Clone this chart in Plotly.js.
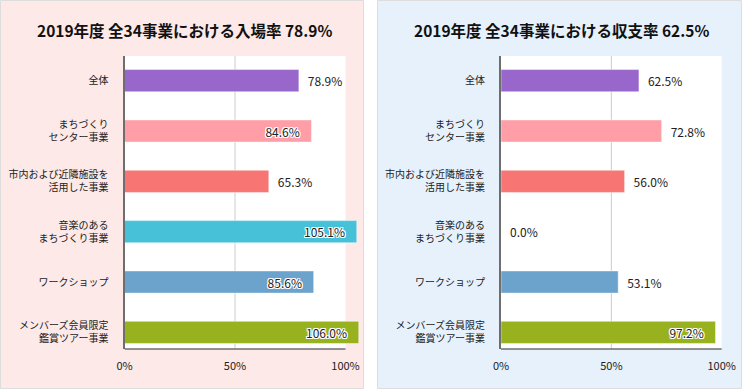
<!DOCTYPE html>
<html>
<head>
<meta charset="utf-8">
<script src="https://cdn.plot.ly/plotly-3.0.1.min.js"></script>
<style>html,body{margin:0;padding:0;background:#fff}#chart{width:742px;height:391px}</style>
</head>
<body>
<div id="chart"></div>
<script>
const categories = ['全体','まちづくり<br>センター事業','市内および近隣施設を<br>活用した事業','音楽のある<br>まちづくり事業','ワークショップ','メンバーズ会員限定<br>鑑賞ツアー事業'];
const attendanceRate = [78.9, 84.6, 65.3, 105.1, 85.6, 106.0];
const balanceRate = [62.5, 72.8, 56.0, 0.0, 53.1, 97.2];
const barColors = ['#9966cc', '#ff9ea7', '#f77573', '#47c1d8', '#6ba3cc', '#98b21f'];
const attendancePos = ['outside','inside','outside','inside','inside','inside'];
const balancePos = ['outside','outside','outside','outside','outside','inside'];
const xTickVals = [0, 50, 100];
const xTickText = ['0%', '50%', '100%'];
const titleLeft = '2019年度 全34事業における入場率 78.9%';
const titleRight = '2019年度 全34事業における収支率 62.5%';

const FONT = '"Noto Sans CJK JP", "Noto Sans", sans-serif';
const W = 742, H = 391;
const shadow = '1px 0 0 #fff, -1px 0 0 #fff, 0 1px 0 #fff, 0 -1px 0 #fff, 1px 1px 0 #fff, -1px -1px 0 #fff, 1px -1px 0 #fff, -1px 1px 0 #fff';

function barTrace(vals, pos, xa, ya) {
  return {
    type: 'bar', orientation: 'h',
    x: vals, y: categories,
    xaxis: xa, yaxis: ya,
    width: 0.44,
    marker: {color: barColors, line: {color: 'rgba(255,255,255,0.45)', width: 1}},
    text: vals.map(v => v.toFixed(1) + '%'),
    texttemplate: pos.map(p => p === 'outside' ? '\u2002%{text}' : '%{text}\u00a0\u2002'),
    textposition: pos,
    insidetextanchor: 'end',
    constraintext: 'none',
    cliponaxis: false,
    insidetextfont: {family: FONT, size: 12, color: '#222', shadow: shadow},
    outsidetextfont: {family: FONT, size: 12, color: '#222'},
    hoverinfo: 'skip'
  };
}

const data = [
  barTrace(attendanceRate, attendancePos, 'x', 'y'),
  barTrace(balanceRate, balancePos, 'x2', 'y2')
];

const yDom = [1 - 349 / H, 1 - 56 / H];
const xRange = [0, 107.5];
function xaxis(dom) {
  return {
    domain: dom, range: xRange, fixedrange: true,
    tickvals: xTickVals, ticktext: xTickText,
    showgrid: false, zeroline: false, showline: false,
    ticks: '', ticklabelstandoff: 9,
    tickfont: {family: FONT, size: 11, color: '#222'}
  };
}
function yaxis(anchor) {
  return {
    anchor: anchor, domain: yDom, type: 'category',
    range: [5.33, -0.49], fixedrange: true,
    showgrid: false, zeroline: false,
    showline: true, linecolor: '#6e6e6e', linewidth: 2,
    ticks: '', ticklabelstandoff: 12,
    tickfont: {family: FONT, size: 10, color: '#222'}
  };
}

const shapes = [];
// panel backgrounds
shapes.push({type:'rect', xref:'paper', yref:'paper', x0:0.5/W, x1:363.5/W, y0:1-388.5/H, y1:1-0.5/H,
  fillcolor:'#fde9e7', line:{color:'#dddddd', width:1}, layer:'below'});
shapes.push({type:'rect', xref:'paper', yref:'paper', x0:377.5/W, x1:741.5/W, y0:1-388.5/H, y1:1-0.5/H,
  fillcolor:'#e6f1fc', line:{color:'#dddddd', width:1}, layer:'below'});
[['x','y'],['x2','y2']].forEach(([xa, ya]) => {
  shapes.push({type:'rect', xref:xa, yref:ya + ' domain', x0:0, x1:100, y0:0, y1:1,
    fillcolor:'#ffffff', line:{width:0}, layer:'below'});
  shapes.push({type:'line', xref:xa, yref:ya + ' domain', x0:50, x1:50, y0:0, y1:1,
    line:{color:'#cccccc', width:1}, layer:'below'});
  shapes.push({type:'line', xref:xa, yref:ya + ' domain', x0:0, x1:100, y0:0, y1:0,
    line:{color:'#6e6e6e', width:1.5}, layer:'above'});
});

const annotations = [
  {text: titleLeft, xref:'paper', yref:'paper', x:184.5/W, y:1-30/H, xanchor:'center', yanchor:'middle',
   showarrow:false, font:{family:FONT, size:15.5, color:'#111', weight:'bold'}},
  {text: titleRight, xref:'paper', yref:'paper', x:561.5/W, y:1-30/H, xanchor:'center', yanchor:'middle',
   showarrow:false, font:{family:FONT, size:15.5, color:'#111', weight:'bold'}}
];

const layout = {
  width: W, height: H,
  margin: {l:0, r:0, t:0, b:0},
  paper_bgcolor: '#ffffff', plot_bgcolor: 'rgba(0,0,0,0)',
  showlegend: false,
  bargap: 0.5,
  xaxis: xaxis([124.5 / W, (124.5 + 107.5 * 2.21) / W]),
  yaxis: yaxis('x'),
  xaxis2: xaxis([501 / W, (501 + 107.5 * 2.207) / W]),
  yaxis2: yaxis('x2'),
  shapes: shapes,
  annotations: annotations
};
layout.xaxis.anchor = 'y';
layout.xaxis2.anchor = 'y2';

Plotly.newPlot('chart', data, layout, {displayModeBar: false, staticPlot: true});
</script>
</body>
</html>
